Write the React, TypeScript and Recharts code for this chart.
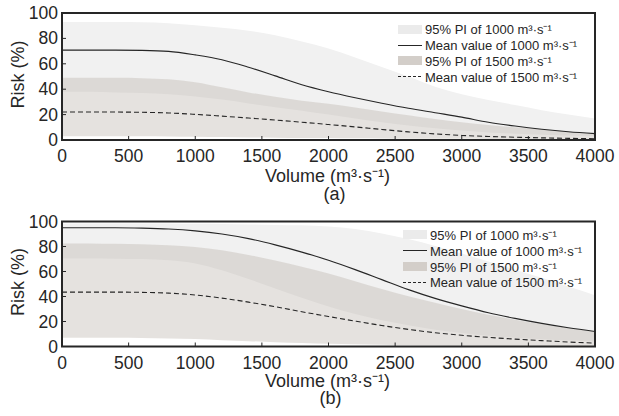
import React from "react";
import { Area, ComposedChart, Label, Line, ReferenceArea, XAxis, YAxis } from "recharts";

// volume grid (m3/s) shared by both panels
const VOLUME = [0, 200, 400, 600, 800, 1000, 1200, 1400, 1600, 1800, 2000, 2200, 2400, 2600, 2800, 3000, 3200, 3400, 3600, 3800, 4000];

// panel (a)
const A_PI1000_HIGH = [93, 93, 93, 92.7, 92, 90.3, 88.3, 86, 82.5, 77.5, 72, 65, 57.5, 50, 42, 36, 31.5, 27.5, 23.5, 20, 17];
const A_PI1000_LOW = [38, 38, 37.5, 37, 36, 34.3, 31.8, 28.8, 25.8, 23, 20, 17, 14, 11.5, 9.3, 7.5, 6, 5, 4.2, 3.5, 3];
const A_MEAN1000 = [70.8, 70.8, 70.8, 70.6, 69.8, 67, 63.2, 57.3, 50.5, 43.5, 38, 33.3, 29, 25, 21.5, 18, 14, 11, 8.5, 6.5, 5];
const A_PI1500_HIGH = [49, 49, 49, 48.7, 47.8, 45.5, 41.5, 37.5, 34, 31, 28.5, 25.5, 22.5, 19.5, 16.5, 14, 11.8, 10, 8.3, 6.7, 5];
const A_PI1500_LOW = [3, 3, 3, 3, 2.8, 2.5, 2.3, 2, 1.8, 1.6, 1.5, 1.3, 1.2, 1, 1, 0.9, 0.8, 0.7, 0.6, 0.5, 0.5];
const A_MEAN1500 = [22, 22, 22, 21.8, 21.3, 20.2, 18.8, 17.3, 15.7, 14, 12.2, 10.3, 8.3, 6.4, 4.8, 3.6, 2.8, 2.2, 1.7, 1.3, 1];

// panel (b)
const B_PI1000_HIGH = [98.5, 98.5, 98.5, 98.5, 98.5, 98.2, 98, 97.7, 97.3, 97, 96, 94, 90.5, 86, 80.5, 74.5, 68, 61.5, 55, 48, 41];
const B_PI1000_LOW = [70.5, 70.5, 70.3, 70, 69, 66.5, 61, 54, 46.5, 39, 32, 26, 21, 17, 13.5, 10.8, 8.7, 7, 5.8, 4.8, 4];
const B_MEAN1000 = [95, 95, 95, 94.7, 94, 92.5, 90, 86.3, 81.3, 75.5, 69, 61.5, 53.5, 45.5, 38.5, 32.5, 27, 22.5, 18.5, 15, 12];
const B_PI1500_HIGH = [82.5, 82.5, 82.2, 81.8, 81, 79.7, 77, 73.3, 68.8, 63.8, 58.5, 52.3, 46, 40.3, 35, 30, 25.5, 21.5, 18, 15, 12];
const B_PI1500_LOW = [7, 7, 7, 6.8, 6.5, 6, 5, 4.3, 3.5, 2.8, 2.2, 1.8, 1.5, 1.2, 1, 0.8, 0.7, 0.6, 0.5, 0.4, 0.3];
const B_MEAN1500 = [43.5, 43.5, 43.5, 43.3, 42.7, 41.2, 38.7, 35.5, 31.8, 27.8, 24, 20.3, 16.8, 13.7, 11, 9, 7.3, 5.9, 4.7, 3.6, 2.7];

const X_TICKS = [0, 500, 1000, 1500, 2000, 2500, 3000, 3500, 4000];
const Y_TICKS = [0, 20, 40, 60, 80, 100];
const LEGEND_LABELS = [
  "95% PI of 1000 m³·s⁻¹",
  "Mean value of 1000 m³·s⁻¹",
  "95% PI of 1500 m³·s⁻¹",
  "Mean value of 1500 m³·s⁻¹",
];

const FONT = '"Liberation Sans", Arial, sans-serif';
const INK = "#262626";
const BAND_1000 = "#f1f1f1";
const BAND_1500 = "#beb7b0";

function buildRows(hi1000: number[], lo1000: number[], mean1000: number[], hi1500: number[], lo1500: number[], mean1500: number[]) {
  return VOLUME.map((v, i) => ({
    volume: v,
    pi1000: [lo1000[i], hi1000[i]],
    mean1000: mean1000[i],
    pi1500: [lo1500[i], hi1500[i]],
    mean1500: mean1500[i],
  }));
}

const ROWS_A = buildRows(A_PI1000_HIGH, A_PI1000_LOW, A_MEAN1000, A_PI1500_HIGH, A_PI1500_LOW, A_MEAN1500);
const ROWS_B = buildRows(B_PI1000_HIGH, B_PI1000_LOW, B_MEAN1000, B_PI1500_HIGH, B_PI1500_LOW, B_MEAN1500);

function XTick(props: any) {
  const { x, y, payload } = props;
  return (
    <g>
      <line x1={x} x2={x} y1={y} y2={y - 4} stroke={INK} strokeWidth={1} />
      <text x={x} y={y + 22} textAnchor="middle" fill={INK} fontSize={17.5} fontFamily={FONT}>
        {payload.value}
      </text>
    </g>
  );
}

function YTick(props: any) {
  const { x, y, payload } = props;
  return (
    <g>
      <line x1={x} x2={x + 4} y1={y} y2={y} stroke={INK} strokeWidth={1} />
      <text x={x - 4} y={y + 6} textAnchor="end" fill={INK} fontSize={17.5} fontFamily={FONT}>
        {payload.value}
      </text>
    </g>
  );
}

function LegendSwatch({ idx }: { idx: number }) {
  if (idx === 0) return <rect x={0} y={1} width={24} height={9} fill="#ebebeb" />;
  if (idx === 2) return <rect x={0} y={1} width={24} height={9} fill="#d3cec9" />;
  return (
    <line x1={0} x2={24} y1={5.5} y2={5.5} stroke={INK} strokeWidth={1} strokeDasharray={idx === 3 ? "3 2" : undefined} />
  );
}

function Panel(props: {
  rows: ReturnType<typeof buildRows>;
  tag: string;
  height: number;
  top: number;
  plotHeight: number;
  titleDy: number;
  tagDy: number;
  tagDx: number;
  legendLeft: number;
  legendTop: number;
}) {
  const { rows, tag, height, top, plotHeight, titleDy, tagDy, tagDx, legendLeft, legendTop } = props;
  const axisHeight = height - top - plotHeight;
  const plotBottom = top + plotHeight;
  return (
    <div style={{ position: "relative", width: 619, height }}>
      <ComposedChart width={619} height={height} data={rows} margin={{ top, right: 24, left: 0, bottom: 0 }}>
        <XAxis
          dataKey="volume"
          type="number"
          domain={[0, 4000]}
          ticks={X_TICKS}
          interval={0}
          height={axisHeight}
          axisLine={false}
          tickLine={false}
          tickSize={0}
          tickMargin={0}
          tick={<XTick />}
        >
          <Label
            content={(p: any) => {
              const vb = p.viewBox ?? { x: 62, width: 533 };
              const cx = vb.x + vb.width / 2;
              return (
                <g fontFamily={FONT} fill={INK} fontSize={18}>
                  <text x={cx - 1} y={plotBottom + titleDy} textAnchor="middle">
                    Volume (m³·s⁻¹)
                  </text>
                  <text x={cx + tagDx} y={plotBottom + tagDy} textAnchor="middle">
                    {tag}
                  </text>
                </g>
              );
            }}
          />
        </XAxis>
        <YAxis
          type="number"
          domain={[0, 100]}
          ticks={Y_TICKS}
          interval={0}
          width={62}
          axisLine={false}
          tickLine={false}
          tickSize={0}
          tickMargin={0}
          tick={<YTick />}
        >
          <Label
            content={() => {
              const cx = 17.5;
              const cy = top + plotHeight / 2 - 2;
              return (
                <text
                  x={cx}
                  y={cy}
                  transform={`rotate(-90 ${cx} ${cy})`}
                  textAnchor="middle"
                  dominantBaseline="central"
                  fontFamily={FONT}
                  fontSize={18}
                  fill={INK}
                >
                  Risk (%)
                </text>
              );
            }}
          />
        </YAxis>
        <Area type="monotone" dataKey="pi1000" stroke="none" fill={BAND_1000} fillOpacity={1} isAnimationActive={false} activeDot={false} />
        <Area type="monotone" dataKey="pi1500" stroke="none" fill={BAND_1500} fillOpacity={0.4} isAnimationActive={false} activeDot={false} />
        <Line type="monotone" dataKey="mean1000" stroke={INK} strokeWidth={1.1} dot={false} isAnimationActive={false} activeDot={false} />
        <Line type="monotone" dataKey="mean1500" stroke={INK} strokeWidth={1.1} strokeDasharray="5 3" dot={false} isAnimationActive={false} activeDot={false} />
        <ReferenceArea x1={0} x2={4000} y1={0} y2={100} fill="none" stroke={INK} strokeWidth={2} />
      </ComposedChart>
      <div style={{ position: "absolute", left: legendLeft, top: legendTop, fontFamily: FONT, fontSize: 13, color: INK }}>
        {LEGEND_LABELS.map((label, i) => (
          <div key={label} style={{ display: "flex", alignItems: "center", height: 15.8, whiteSpace: "nowrap" }}>
            <svg width={24} height={11} style={{ marginRight: 3, flex: "none" }}>
              <LegendSwatch idx={i} />
            </svg>
            <span>{label}</span>
          </div>
        ))}
      </div>
    </div>
  );
}

export default function App() {
  return (
    <div style={{ position: "absolute", left: 0, top: 0, width: 619, height: 416, background: "#fff" }}>
      <Panel rows={ROWS_A} tag="(a)" height={208} top={13} plotHeight={127} titleDy={41.5} tagDy={60} tagDx={6} legendLeft={398} legendTop={21.4} />
      <Panel rows={ROWS_B} tag="(b)" height={208} top={13.5} plotHeight={125} titleDy={40} tagDy={57.5} tagDx={2} legendLeft={403} legendTop={19} />
    </div>
  );
}
